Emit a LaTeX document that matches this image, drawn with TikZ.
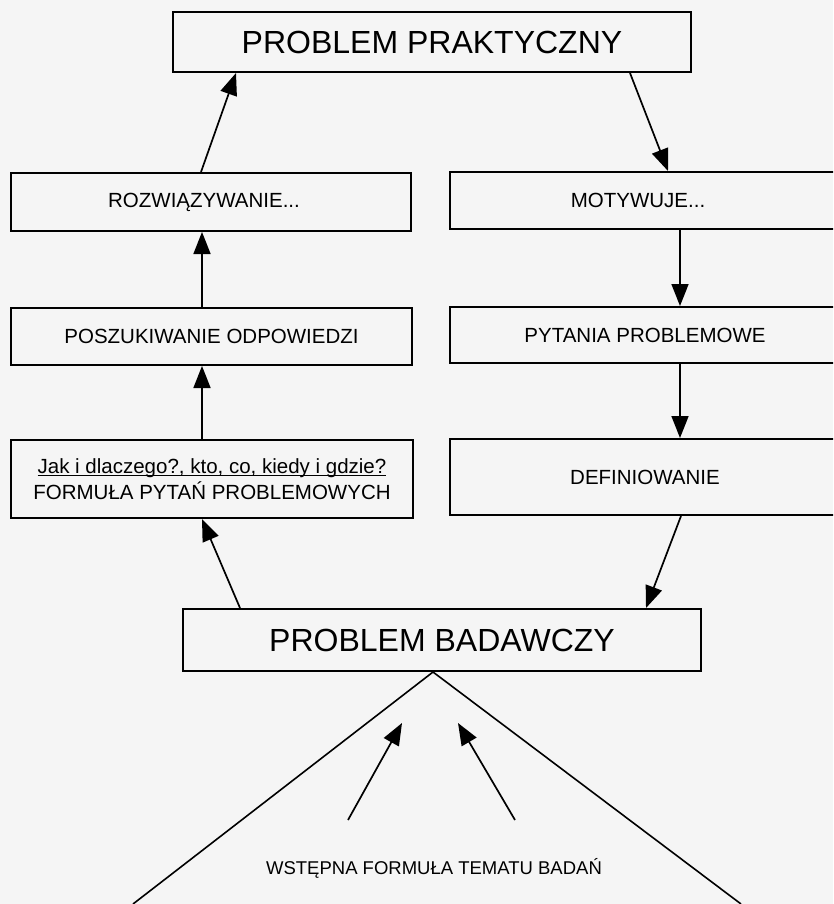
\documentclass[tikz,border=0pt]{standalone}
\usepackage{fontspec}
\setmainfont{Liberation Sans}
\usetikzlibrary{arrows.meta,calc}
\newcommand{\myul}[1]{\setbox0\hbox{#1}\rlap{\rule[-2.2pt]{\wd0}{0.9pt}}\box0}
\begin{document}
\begin{tikzpicture}[x=1pt,y=-1pt,
  box/.style={draw=black,line width=2pt,minimum width=#1,inner sep=0pt,align=center,text=black},
  bigtxt/.style={font=\fontsize{32}{38}\selectfont},
  midtxt/.style={font=\fontsize{20.5}{26}\selectfont},
  arr/.style={line width=1.7pt,-{Triangle[length=22pt,width=17pt]}},
  tri/.style={line width=1.6pt}]
\useasboundingbox (0,0) rectangle (833,904);
\clip (0,0) rectangle (833,904);
\fill[gray!8] (0,0) rectangle (833,904);
% boxes
\node[box=518pt,minimum height=60pt,bigtxt] (prak) at (432,42) {PROBLEM PRAKTYCZNY};
\node[box=400pt,minimum height=58pt,midtxt] (rozw) at (211,202) {\hspace*{-14pt}ROZWIĄZYWANIE...};
\node[box=390pt,minimum height=57pt,midtxt] (motyw) at (645,200.5) {\hspace*{-14pt}MOTYWUJE...};
\node[box=401pt,minimum height=57pt,midtxt] (poszuk) at (211.5,336.5) {POSZUKIWANIE ODPOWIEDZI};
\node[box=390pt,minimum height=56pt,midtxt] (pyt) at (645,335) {PYTANIA PROBLEMOWE};
\node[box=402pt,minimum height=78pt,midtxt] (form) at (212,479) {\myul{Jak i dlaczego?, kto, co, kiedy i gdzie?}\\FORMUŁA PYTAŃ PROBLEMOWYCH};
\node[box=390pt,minimum height=76pt,midtxt] (defin) at (645,477) {DEFINIOWANIE};
\node[box=518pt,minimum height=62pt,bigtxt] (badaw) at (442,640) {PROBLEM BADAWCZY};
% triangle
\coordinate (apex) at ([xshift=-9pt]badaw.south);
\coordinate (tl) at (133,904);
\coordinate (tr) at (741,904);
\draw[tri] (tl) -- (apex) -- (tr);
\node[font=\fontsize{18.5}{22}\selectfont,text=black] (temat) at (434,868) {WSTĘPNA FORMUŁA TEMATU BADAŃ};
\coordinate (a1s) at (348,820);
\coordinate (a1e) at (402,723);
\coordinate (a2s) at (515,820);
\coordinate (a2e) at (458,723);
\draw[arr] (a1s) -- (a1e);
\draw[arr] (a2s) -- (a2e);
% connectors
\draw[arr] ([xshift=-10pt]rozw.north) -- ([xshift=-196pt]prak.south);
\draw[arr] ([xshift=198pt]prak.south) -- ([xshift=23pt]motyw.north);
\draw[arr] ([xshift=35pt]motyw.south) -- ([xshift=35pt]pyt.north);
\draw[arr] ([xshift=-9.5pt]poszuk.north) -- ([xshift=-9pt]rozw.south);
\draw[arr] ([xshift=-10pt]form.north) -- ([xshift=-9.5pt]poszuk.south);
\draw[arr] ([xshift=35pt]pyt.south) -- ([xshift=35pt]defin.north);
\draw[arr] ([xshift=-202pt]badaw.north) -- ([xshift=-10pt]form.south);
\draw[arr] ([xshift=36pt]defin.south) -- ([xshift=204pt]badaw.north);
\end{tikzpicture}
\end{document}
